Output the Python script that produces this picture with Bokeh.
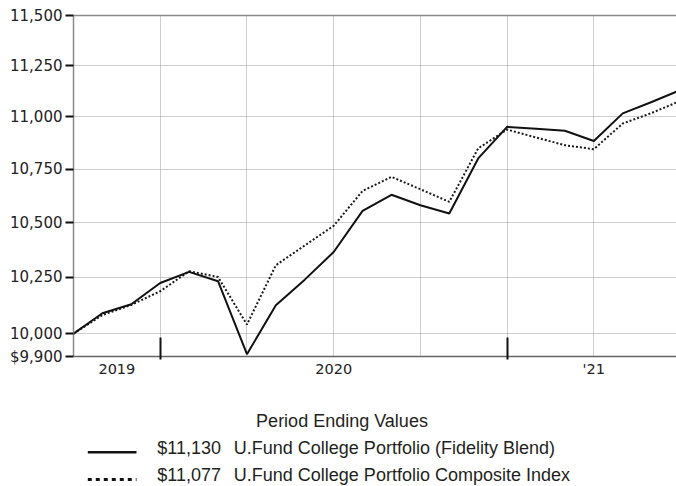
from bokeh.plotting import figure
from bokeh.models import Range1d, FixedTicker, LinearAxis
from bokeh.layouts import column
from bokeh.core.properties import value
from bokeh.embed import file_html
from bokeh.resources import INLINE

# ---------------- data ----------------
months = ["2019-09", "2019-10", "2019-11", "2019-12",
          "2020-01", "2020-02", "2020-03", "2020-04", "2020-05", "2020-06",
          "2020-07", "2020-08", "2020-09", "2020-10", "2020-11", "2020-12",
          "2021-01", "2021-02", "2021-03", "2021-04", "2021-05", "2021-06"]
fund = [10000, 10090, 10130, 10225, 10275, 10233, 9910, 10125, 10240, 10365, 10554,
        10629, 10580, 10542, 10800, 10951, 10942, 10932, 10883, 11016, 11071, 11130]
composite = [10000, 10082, 10127, 10188, 10278, 10252, 10040, 10305, 10395, 10485, 10647,
             10713, 10655, 10596, 10848, 10938, 10900, 10863, 10844, 10967, 11018, 11077]
fund_name = "U.Fund College Portfolio (Fidelity Blend)"
composite_name = "U.Fund College Portfolio Composite Index"
legend_title = "Period Ending Values"
y_ticks = [9900, 10000, 10250, 10500, 10750, 11000, 11250, 11500]
y_tick_labels = ["$9,900", "10,000", "10,250", "10,500", "10,750", "11,000", "11,250", "11,500"]
year_labels = ["2019", "2020", "'21"]

x = list(range(len(months)))
year_ends = [i for i, m in enumerate(months) if m.endswith("-12")]
quarter_ends = [i for i, m in enumerate(months) if i > 0 and m[-2:] in ("03", "06", "09", "12")]
bounds = [0] + year_ends + [len(months) - 1]
year_pos = [(bounds[i] + bounds[i + 1]) / 2 for i in range(len(bounds) - 1)]

LG_FONT = value("Liberation Sans")
W = 676

# ---------------- main chart ----------------
p = figure(width=W, height=388, y_axis_type="log",
           x_range=Range1d(0, 20.86), y_range=Range1d(y_ticks[0], y_ticks[-1]),
           toolbar_location=None, output_backend="svg",
           min_border_left=73, min_border_right=0, min_border_top=15, min_border_bottom=32,
           outline_line_color=None, background_fill_color="white", border_fill_color="white")

p.line(x, composite, line_color="#1a1a1a", line_width=2, line_dash="2 2")
p.line(x, fund, line_color="#111111", line_width=2)

# y axis
ya = p.yaxis[0]
ya.ticker = FixedTicker(ticks=y_ticks)
ya.major_label_overrides = dict(zip(y_ticks, y_tick_labels))
ya.major_label_text_font = "DejaVu Sans"
ya.major_label_text_font_size = "15px"
ya.major_label_text_color = "#222222"
ya.major_label_standoff = 3
ya.major_tick_in = 0
ya.major_tick_out = 8
ya.major_tick_line_color = "#111111"
ya.major_tick_line_width = 2
ya.minor_tick_line_color = None
ya.axis_line_color = "#8a8a8a"
ya.axis_line_width = 1.5

# x axis
xa = p.xaxis[0]
xa.ticker = FixedTicker(ticks=year_pos, minor_ticks=year_ends)
xa.major_label_overrides = dict(zip(year_pos, year_labels))
xa.major_label_text_font = "DejaVu Sans"
xa.major_label_text_font_size = "14.5px"
xa.major_label_text_color = "#222222"
xa.major_label_standoff = 1
xa.major_tick_line_color = None
xa.major_tick_in = 0
xa.major_tick_out = 0
xa.minor_tick_in = 19
xa.minor_tick_out = 3
xa.minor_tick_line_color = "#111111"
xa.minor_tick_line_width = 2
xa.axis_line_color = "#666666"
xa.axis_line_width = 1.5

# top border
top = LinearAxis(ticker=FixedTicker(ticks=[]), axis_line_color="#8a8a8a", axis_line_width=1.5,
                 major_tick_line_color=None, minor_tick_line_color=None,
                 major_label_text_font_size="0px")
p.add_layout(top, "above")

# grids
p.xgrid.ticker = FixedTicker(ticks=quarter_ends)
p.ygrid.ticker = FixedTicker(ticks=y_ticks[1:-1])
for g in (p.xgrid[0], p.ygrid[0]):
    g.grid_line_color = "#9a9a9a"
    g.grid_line_dash = "1 1"
    g.grid_line_width = 1

# ---------------- legend panel (coordinates = page pixels) ----------------
q = figure(width=W, height=98, x_range=Range1d(73, W), y_range=Range1d(98, 0),
           toolbar_location=None, output_backend="svg",
           min_border_left=73, min_border_right=0, min_border_top=0, min_border_bottom=0,
           x_axis_location=None, y_axis_location=None, outline_line_color=None,
           background_fill_color="white", border_fill_color="white")
q.grid.visible = False

q.text(x=[341.5], y=[32.3], text=[legend_title], text_align="center", text_baseline="alphabetic",
       text_font=LG_FONT, text_font_size="18px", text_color="#231f20")
q.text(x=[156.7, 156.7], y=[59.5, 86.5], text=[f"${fund[-1]:,}", f"${composite[-1]:,}"],
       text_align="left", text_baseline="alphabetic",
       text_font=LG_FONT, text_font_size="18px", text_color="#231f20")
q.text(x=[233.3, 233.3], y=[59.5, 86.5], text=[fund_name, composite_name],
       text_align="left", text_baseline="alphabetic",
       text_font=LG_FONT, text_font_size="18px", text_color="#231f20")
q.line([87.3, 136], [63.7, 63.7], line_color="#111111", line_width=2.5)
q.line([87.3, 136], [91, 91], line_color="#111111", line_width=3, line_dash="4 4")

layout = column(p, q, spacing=0)
open("out.html", "w").write(file_html(layout, INLINE))
